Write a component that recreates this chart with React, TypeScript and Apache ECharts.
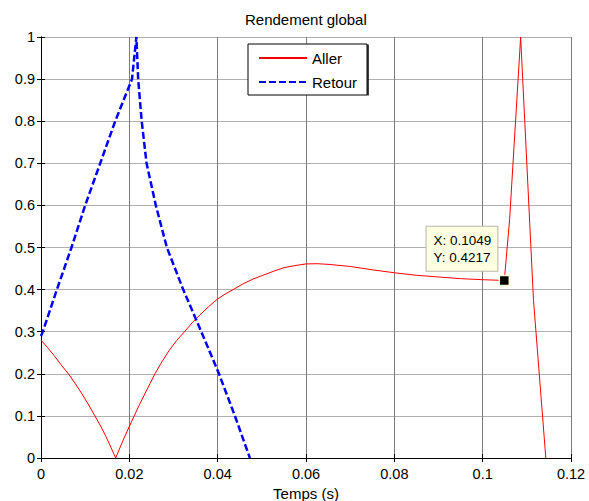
import React, { useEffect, useRef } from 'react';
import * as echarts from 'echarts';

const allerX = [0, 0.0015, 0.003, 0.0045, 0.0062, 0.0078, 0.0093, 0.0108, 0.0122, 0.0135, 0.0147, 0.0158, 0.0169, 0.0185, 0.02, 0.0211, 0.0223, 0.0235, 0.0247, 0.0258, 0.0274, 0.029, 0.0307, 0.0325, 0.0342, 0.036, 0.038, 0.04, 0.0418, 0.0435, 0.0458, 0.048, 0.05, 0.0525, 0.055, 0.0575, 0.06, 0.0625, 0.065, 0.07, 0.075, 0.08, 0.085, 0.09, 0.095, 0.1, 0.1049, 0.1061, 0.1086, 0.1115, 0.1143];
const allerY = [0.28, 0.262, 0.243, 0.222, 0.2, 0.176, 0.152, 0.126, 0.1, 0.076, 0.051, 0.026, 0, 0.04, 0.075, 0.1, 0.127, 0.152, 0.177, 0.2, 0.229, 0.255, 0.279, 0.3, 0.321, 0.34, 0.36, 0.378, 0.39, 0.4, 0.414, 0.425, 0.433, 0.443, 0.452, 0.457, 0.461, 0.4615, 0.46, 0.455, 0.447, 0.44, 0.434, 0.43, 0.426, 0.4235, 0.4217, 0.566, 1, 0.376, 0];

const retourX = [0, 0.0004, 0.0036, 0.0069, 0.01, 0.0134, 0.0168, 0.0206, 0.0216, 0.022, 0.0228, 0.0239, 0.026, 0.0285, 0.0322, 0.0363, 0.0403, 0.0439, 0.0473];
const retourY = [0.29, 0.3, 0.4, 0.5, 0.6, 0.7, 0.8, 0.9, 1, 0.9, 0.8, 0.7, 0.6, 0.5, 0.4, 0.3, 0.2, 0.1, 0];

const seriesNames = ['Aller', 'Retour'];
const cursorX = 0.1049;
const cursorY = 0.4217;
const titleText = 'Rendement global';
const xAxisName = 'Temps (s)';

const zip = (xs: number[], ys: number[]) => xs.map((x, i) => [x, ys[i]]);
const fmt = (v: number) => String(+Number(v).toFixed(4));

export default function App() {
  const ref = useRef<HTMLDivElement>(null);
  useEffect(() => {
    const chart = echarts.init(ref.current!, null, { renderer: 'svg' });
    const font = "'Liberation Sans', Arial, sans-serif";
    const black = '#000';
    chart.setOption({
      animation: false,
      backgroundColor: '#fff',
      textStyle: { fontFamily: font },
      title: {
        text: titleText,
        left: 245,
        top: 12,
        padding: 0,
        textStyle: { fontSize: 15, fontWeight: 'normal', color: black, fontFamily: font },
      },
      legend: {
        orient: 'vertical',
        left: 248,
        top: 44,
        padding: [6, 10, 5, 10],
        itemWidth: 48,
        itemHeight: 14,
        itemGap: 8,
        backgroundColor: '#fff',
        borderColor: black,
        borderWidth: 1,
        selectedMode: false,
        itemStyle: { opacity: 0 },
        textStyle: { fontSize: 15, color: black, lineHeight: 16, fontFamily: font },
        data: seriesNames,
      },
      graphic: [
        {
          type: 'line',
          shape: { x1: 368, y1: 44.5, x2: 368, y2: 95.5 },
          style: { stroke: black, lineWidth: 1.5 },
          z: 100,
        },
      ],
      grid: { left: 41, right: 18, top: 37, bottom: 43, containLabel: false, outerBoundsMode: 'none' },
      xAxis: [
        {
          type: 'value',
          position: 'bottom',
          min: 0,
          max: 0.12,
          interval: 0.02,
          name: xAxisName,
          nameLocation: 'middle',
          nameGap: 28,
          nameTextStyle: { fontSize: 15, color: black, fontFamily: font },
          axisLine: { show: true, lineStyle: { color: black, width: 1 } },
          axisTick: { show: true, inside: true, length: 4, lineStyle: { color: black } },
          axisLabel: { fontSize: 14.5, color: black, margin: 8, formatter: fmt, fontFamily: font },
          splitLine: { show: true, lineStyle: { color: '#7a7a7a', width: 1 } },
        },
        {
          type: 'value',
          position: 'top',
          min: 0,
          max: 0.12,
          interval: 0.02,
          axisLine: { show: true, lineStyle: { color: black, width: 1 } },
          axisTick: { show: true, inside: true, length: 4, lineStyle: { color: black } },
          axisLabel: { show: false },
          splitLine: { show: false },
        },
      ],
      yAxis: [
        {
          type: 'value',
          position: 'left',
          min: 0,
          max: 1,
          interval: 0.1,
          axisLine: { show: true, lineStyle: { color: black, width: 1 } },
          axisTick: { show: true, inside: true, length: 4, lineStyle: { color: black } },
          axisLabel: { fontSize: 14.5, color: black, margin: 6, formatter: fmt, fontFamily: font },
          splitLine: { show: true, lineStyle: { color: '#b0b0b0', width: 1 } },
        },
        {
          type: 'value',
          position: 'right',
          min: 0,
          max: 1,
          interval: 0.1,
          axisLine: { show: true, lineStyle: { color: black, width: 1 } },
          axisTick: { show: true, inside: true, length: 4, lineStyle: { color: black } },
          axisLabel: { show: false },
          splitLine: { show: false },
        },
      ],
      series: [
        {
          name: seriesNames[0],
          type: 'line',
          xAxisIndex: 0,
          yAxisIndex: 0,
          data: zip(allerX, allerY),
          symbol: 'none',
          lineStyle: { color: '#ff0000', width: 1 },
          itemStyle: { color: '#ff0000' },
          markPoint: {
            symbol: 'rect',
            symbolSize: 10,
            itemStyle: { color: black, borderColor: '#fffbd0', borderWidth: 1.5 },
            z: 10,
            data: [{ coord: [cursorX, cursorY] }],
            label: {
              show: true,
              formatter: `X: ${cursorX}\nY: ${cursorY}`,
              position: [-72, -48],
              align: 'left',
              verticalAlign: 'top',
              fontSize: 13.5,
              lineHeight: 16.5,
              color: black,
              fontFamily: font,
              backgroundColor: '#ffffe1',
              borderColor: '#b8b8a8',
              borderWidth: 1,
              padding: [6, 6, 5, 7],
            },
          },
        },
        {
          name: seriesNames[1],
          type: 'line',
          xAxisIndex: 0,
          yAxisIndex: 0,
          data: zip(retourX, retourY),
          symbol: 'none',
          lineStyle: { color: '#0000ff', width: 2.5, type: [7, 3] },
          itemStyle: { color: '#0000ff' },
        },
      ],
    });
    return () => chart.dispose();
  }, []);
  return (
    <div
      ref={ref}
      style={{ position: 'fixed', left: 0, top: 0, width: 589, height: 501, background: '#fff' }}
    />
  );
}
